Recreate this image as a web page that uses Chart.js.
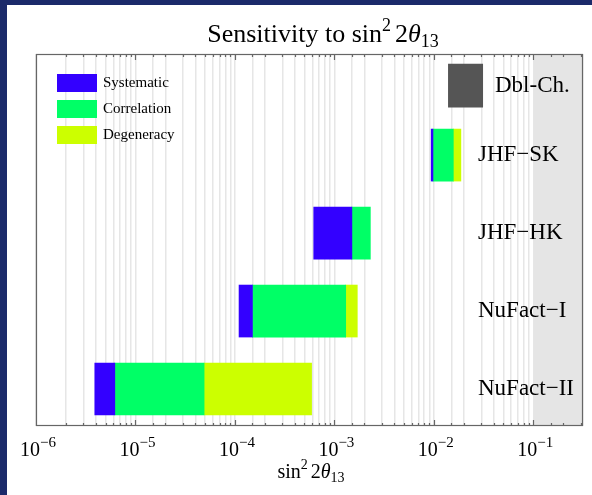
<!DOCTYPE html>
<html>
<head>
<meta charset="utf-8">
<script src="https://cdn.jsdelivr.net/npm/chart.js@4"></script>
<style>
  html, body { margin: 0; padding: 0; background: #1b2a6a; }
  canvas { display: block; }
</style>
</head>
<body>
<canvas id="sensChart" width="592" height="495"></canvas>
<script>
// rows, bottom to top
const rowLabels = ['NuFact−II', 'NuFact−I', 'JHF−HK', 'JHF−SK'];
const rowPos = [1, 2, 3, 4];
// sin^2 2theta13 reach, each bar grows from systematics -> correlations -> degeneracies
const sysLow   = [3.9e-6, 1.1e-4, 6.2e-4, 9.4e-3];
const sysHigh  = [6.2e-6, 1.5e-4, 1.5e-3, 9.8e-3];
const corrHigh = [4.9e-5, 1.3e-3, 2.3e-3, 1.57e-2];
const degHigh  = [5.9e-4, 1.7e-3, null,   1.87e-2];
// Double Chooz box
const dblChLabel = 'Dbl-Ch.';
const dblChRange = [0.014, 0.031];
const dblChPos = 4.89;

const seriesNames = ['Systematic', 'Correlation', 'Degeneracy'];
const seriesColors = ['#3300ff', '#00ff66', '#ccff00'];
const tickPowers = [-6, -5, -4, -3, -2, -1];
const excludedFrom = 0.1;

const serif = '"Liberation Serif", "Times New Roman", serif';

function segs(lo, hi) {
  const out = [];
  rowPos.forEach((y, i) => {
    if (lo[i] != null && hi[i] != null) out.push({ x: [lo[i], hi[i]], y: y });
  });
  return out;
}

// draw a run of text pieces with different sizes / offsets (sup, sub)
function drawPieces(ctx, parts, x, y, align) {
  let w = 0;
  parts.forEach(p => {
    ctx.font = (p.italic ? 'italic ' : '') + p.size + 'px ' + serif;
    p.w = ctx.measureText(p.t).width + (p.dx || 0);
    w += p.w;
  });
  let cx = align === 'center' ? x - w / 2 : x;
  ctx.textAlign = 'left';
  ctx.textBaseline = 'alphabetic';
  parts.forEach(p => {
    ctx.font = (p.italic ? 'italic ' : '') + p.size + 'px ' + serif;
    ctx.fillText(p.t, cx + (p.dx || 0), y + (p.dy || 0));
    cx += p.w;
  });
}

const decor = {
  id: 'decor',
  beforeDraw(chart) {
    const ctx = chart.ctx;
    ctx.save();
    ctx.fillStyle = '#1b2a6a';
    ctx.fillRect(0, 0, chart.width, chart.height);
    ctx.fillStyle = '#ffffff';
    ctx.fillRect(7, 5, chart.width - 7, chart.height - 5);
    ctx.restore();
  },
  beforeDatasetsDraw(chart) {
    const { ctx, chartArea: a, scales: { x } } = chart;
    const x0 = x.getPixelForValue(excludedFrom);
    ctx.save();
    ctx.fillStyle = '#e5e5e5';
    ctx.fillRect(x0, a.top, a.right - x0, a.bottom - a.top);
    ctx.restore();
  },
  afterDraw(chart) {
    const { ctx, chartArea: a, scales: { x, y } } = chart;
    ctx.save();
    ctx.fillStyle = '#000';

    // title
    drawPieces(ctx, [
      { t: 'Sensitivity to sin', size: 26 },
      { t: '2', size: 18, dy: -11 },
      { t: '2', size: 26, dx: 4 },
      { t: 'θ', size: 26, italic: true },
      { t: '13', size: 18, dy: 5 }
    ], 323, 42, 'center');

    // frame and inward ticks
    ctx.strokeStyle = '#666';
    ctx.lineWidth = 1.2;
    ctx.strokeRect(a.left + 0.5, a.top + 0.5, a.right - a.left - 1, a.bottom - a.top - 1);
    x.ticks.forEach(t => {
      if (t.value <= x.min || t.value >= x.max) return;
      const px = Math.round(x.getPixelForValue(t.value)) + 0.5;
      const major = Math.abs(Math.log10(t.value) - Math.round(Math.log10(t.value))) < 1e-6;
      const len = major ? 6 : 3;
      ctx.beginPath();
      ctx.moveTo(px, a.bottom); ctx.lineTo(px, a.bottom - len);
      ctx.moveTo(px, a.top); ctx.lineTo(px, a.top + len);
      ctx.stroke();
    });

    // tick labels 10^n
    tickPowers.forEach(p => {
      const px = x.getPixelForValue(Math.pow(10, p));
      drawPieces(ctx, [
        { t: '10', size: 20 },
        { t: '−' + Math.abs(p), size: 15, dy: -9 }
      ], px + 2, 456, 'center');
    });

    // axis title
    drawPieces(ctx, [
      { t: 'sin', size: 20 },
      { t: '2', size: 14, dy: -9 },
      { t: '2', size: 20, dx: 3 },
      { t: 'θ', size: 20, italic: true },
      { t: '13', size: 14, dy: 4 }
    ], 311, 478, 'center');

    // row names inside the plot
    ctx.font = '23px ' + serif;
    ctx.textAlign = 'left';
    ctx.textBaseline = 'middle';
    rowLabels.forEach((lab, i) => ctx.fillText(lab, 478, y.getPixelForValue(rowPos[i])));
    ctx.fillText(dblChLabel, 495, y.getPixelForValue(dblChPos));

    // legend
    seriesNames.forEach((name, i) => {
      const top = 74 + i * 26;
      ctx.fillStyle = seriesColors[i];
      ctx.fillRect(57, top, 40, 18);
      ctx.fillStyle = '#000';
      ctx.font = '15px ' + serif;
      ctx.fillText(name, 103, top + 9);
    });
    ctx.restore();
  }
};

new Chart(document.getElementById('sensChart'), {
  type: 'bar',
  data: {
    datasets: [
      { label: seriesNames[0], data: segs(sysLow, sysHigh), backgroundColor: seriesColors[0], barThickness: 52 },
      { label: seriesNames[1], data: segs(sysHigh, corrHigh), backgroundColor: seriesColors[1], barThickness: 52 },
      { label: seriesNames[2], data: segs(corrHigh, degHigh), backgroundColor: seriesColors[2], barThickness: 52 },
      { label: dblChLabel, data: [{ x: dblChRange, y: dblChPos }], backgroundColor: '#555555', barThickness: 43 }
    ]
  },
  options: {
    indexAxis: 'y',
    responsive: false,
    animation: false,
    devicePixelRatio: 1,
    grouped: false,
    layout: { padding: { left: 36, right: 9, top: 54, bottom: 69 } },
    plugins: {
      legend: { display: false },
      title: { display: false },
      tooltip: { enabled: false }
    },
    scales: {
      x: {
        type: 'logarithmic',
        min: 1e-6,
        max: 0.316,
        border: { display: false },
        grid: { color: '#e6e6e6', lineWidth: 1.5, drawTicks: false },
        ticks: { display: false, autoSkip: false }
      },
      y: {
        type: 'linear',
        min: 0.526,
        max: 5.296,
        offset: false,
        display: false
      }
    }
  },
  plugins: [decor]
});
</script>
</body>
</html>
